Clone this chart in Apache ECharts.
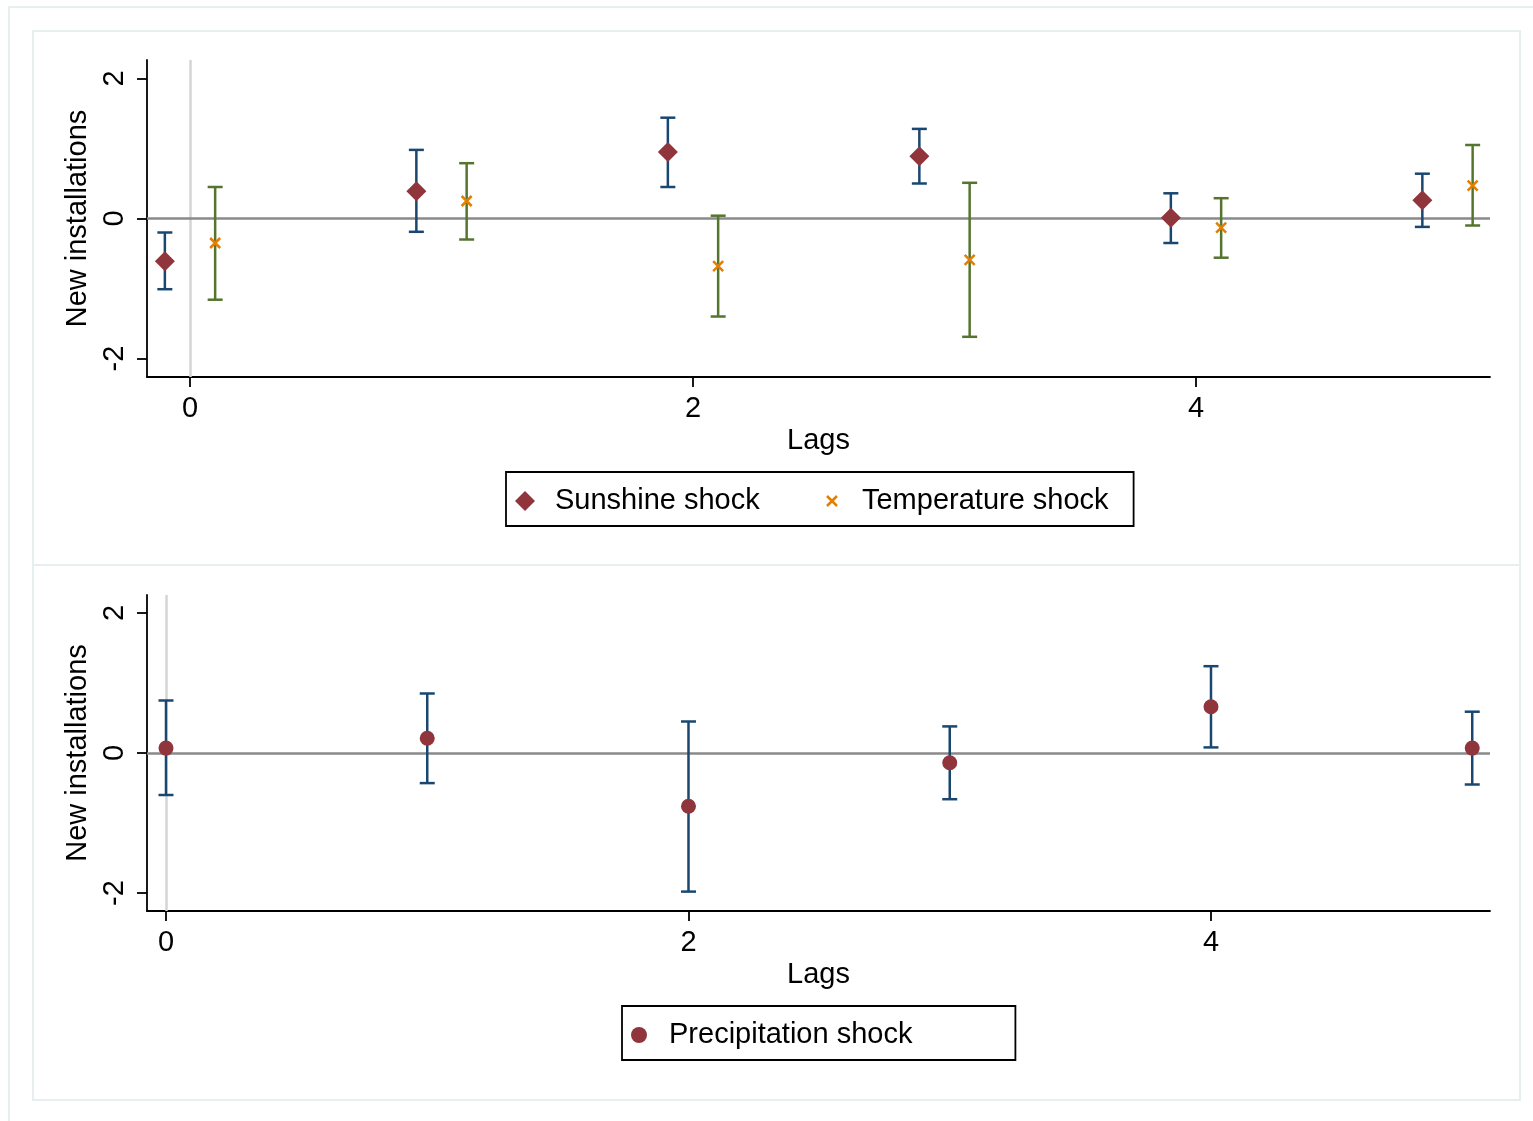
<!DOCTYPE html>
<html>
<head>
<meta charset="utf-8">
<script src="https://cdn.jsdelivr.net/npm/echarts@6/dist/echarts.min.js"></script>
<style>
  html, body { margin: 0; padding: 0; background: #fff; }
  #main { width: 1533px; height: 1121px; }
</style>
</head>
<body>
<div id="main"></div>
<script>
// lags on the x axis
var lags = [0, 1, 2, 3, 4, 5];
var xTicks = [0, 2, 4];
var yTicks = [-2, 0, 2];

// top panel: sunshine and temperature shocks (coef with 95% CI)
var sunCoef = [-0.61, 0.39, 0.95, 0.89, 0.01, 0.26];
var sunLow  = [-1.01, -0.19, 0.45, 0.50, -0.35, -0.12];
var sunHigh = [-0.20, 0.98, 1.44, 1.28, 0.36, 0.64];

var tempCoef = [-0.35, 0.25, -0.68, -0.59, -0.13, 0.47];
var tempLow  = [-1.16, -0.30, -1.40, -1.69, -0.56, -0.10];
var tempHigh = [0.45, 0.79, 0.04, 0.51, 0.29, 1.05];

// bottom panel: precipitation shock
var precCoef = [0.07, 0.21, -0.76, -0.14, 0.66, 0.07];
var precLow  = [-0.60, -0.43, -1.98, -0.66, 0.08, -0.45];
var precHigh = [0.75, 0.85, 0.45, 0.38, 1.24, 0.59];

var navy = '#1a476f', maroon = '#90353b', green = '#55752f', orange = '#e37e00';
var font = 'Liberation Sans, Arial, Helvetica, sans-serif';
var shift = 0.1; // sunshine drawn just left of the lag, temperature just right

function pts(xs, ys, dx) {
  return xs.map(function (x, i) { return [x + dx, ys[i]]; });
}
function bars(xs, lo, hi, dx) {
  return xs.map(function (x, i) { return [x + dx, lo[i], hi[i]]; });
}

function errorBar(color) {
  return function (params, api) {
    var x = api.value(0);
    var a = api.coord([x, api.value(1)]);
    var b = api.coord([x, api.value(2)]);
    var w = 7.5;
    var st = { stroke: color, lineWidth: 2.5, fill: null };
    return {
      type: 'group',
      children: [
        { type: 'line', shape: { x1: a[0], y1: a[1], x2: b[0], y2: b[1] }, style: st },
        { type: 'line', shape: { x1: a[0] - w, y1: a[1], x2: a[0] + w, y2: a[1] }, style: st },
        { type: 'line', shape: { x1: b[0] - w, y1: b[1], x2: b[0] + w, y2: b[1] }, style: st }
      ]
    };
  };
}

// zero lines, kept in their own empty series so they sit under the bars
function refSeries(idx) {
  return {
    type: 'line', name: 'ref' + idx, xAxisIndex: idx, yAxisIndex: idx, z: 1,
    data: [], silent: true,
    markLine: {
      z: 1,
      silent: true,
      symbol: 'none',
      label: { show: false },
      emphasis: { disabled: true },
      data: [
        { xAxis: 0, lineStyle: { color: '#d4d4d4', width: 2.5, type: 'solid' } },
        { yAxis: 0, lineStyle: { color: '#8a8a8a', width: 2.5, type: 'solid' } }
      ]
    }
  };
}

function xAxisCfg(idx, min, max) {
  return {
    type: 'value', gridIndex: idx, min: min, max: max,
    name: 'Lags', nameLocation: 'middle', nameGap: 49,
    nameTextStyle: { fontSize: 29, color: '#000', fontFamily: font },
    axisLine: { onZero: false, lineStyle: { color: '#000', width: 1.8 } },
    axisTick: { customValues: xTicks, length: 10, lineStyle: { color: '#000', width: 1.8 } },
    axisLabel: { customValues: xTicks, fontSize: 29, color: '#000', fontFamily: font, margin: 17 },
    splitLine: { show: false }
  };
}
function yAxisCfg(idx, min, max) {
  return {
    type: 'value', gridIndex: idx, min: min, max: max,
    name: 'New installations', nameLocation: 'middle', nameGap: 43,
    nameTextStyle: { fontSize: 29, color: '#000', fontFamily: font },
    axisLine: { show: true, onZero: false, lineStyle: { color: '#000', width: 1.8 } },
    axisTick: { show: true, customValues: yTicks, length: 10, lineStyle: { color: '#000', width: 1.8 } },
    axisLabel: { customValues: yTicks, rotate: 90, fontSize: 29, color: '#000', fontFamily: font, margin: 18 },
    splitLine: { show: false }
  };
}

var xSym = 'path://M0,0M20,20M5,5L15,15M15,5L5,15';

var myChart = echarts.init(document.getElementById('main'));
myChart.setOption({
  animation: false,
  backgroundColor: '#fff',
  textStyle: { fontFamily: font },
  graphic: [
    { type: 'rect', z: -10, shape: { x: 9, y: 7, width: 1540, height: 1130 }, style: { fill: 'none', stroke: '#e6eef0', lineWidth: 2 } },
    { type: 'rect', z: -10, shape: { x: 33, y: 31, width: 1487, height: 534 }, style: { fill: 'none', stroke: '#e6eef0', lineWidth: 2 } },
    { type: 'rect', z: -10, shape: { x: 33, y: 565, width: 1487, height: 535 }, style: { fill: 'none', stroke: '#e6eef0', lineWidth: 2 } }
  ],
  grid: [
    { left: 147, top: 60, width: 1343, height: 317 },
    { left: 147, top: 595, width: 1343, height: 316 }
  ],
  xAxis: [xAxisCfg(0, -0.171, 5.169), xAxisCfg(1, -0.0727, 5.068)],
  yAxis: [yAxisCfg(0, -2.264, 2.264), yAxisCfg(1, -2.257, 2.257)],
  legend: [
    {
      left: 506, top: 472, orient: 'horizontal',
      padding: [14, 25, 10, 9], itemGap: 61,
      itemWidth: 20, itemHeight: 20,
      borderColor: '#000', borderWidth: 1.8,
      textStyle: { fontSize: 29, color: '#000', fontFamily: font, padding: [0, 0, 0, 15], lineHeight: 30 },
      data: [
        { name: 'Sunshine shock', icon: 'diamond', itemStyle: { color: maroon, borderWidth: 0 } },
        { name: 'Temperature shock', icon: xSym, itemStyle: { color: 'rgba(0,0,0,0)', borderColor: orange, borderWidth: 2.5 } }
      ]
    },
    {
      left: 622, top: 1006, orient: 'horizontal',
      padding: [14, 103, 10, 9],
      itemWidth: 20, itemHeight: 16,
      borderColor: '#000', borderWidth: 1.8,
      textStyle: { fontSize: 29, color: '#000', fontFamily: font, padding: [0, 0, 0, 15], lineHeight: 30 },
      data: [
        { name: 'Precipitation shock', icon: 'circle', itemStyle: { color: maroon, borderWidth: 0 } }
      ]
    }
  ],
  series: [
    refSeries(0),
    {
      type: 'custom', name: 'sunCI', xAxisIndex: 0, yAxisIndex: 0, z: 2,
      renderItem: errorBar(navy), encode: { x: 0, y: [1, 2] },
      data: bars(lags, sunLow, sunHigh, -shift)
    },
    {
      type: 'custom', name: 'tempCI', xAxisIndex: 0, yAxisIndex: 0, z: 2,
      renderItem: errorBar(green), encode: { x: 0, y: [1, 2] },
      data: bars(lags, tempLow, tempHigh, shift)
    },
    {
      type: 'scatter', name: 'Sunshine shock', xAxisIndex: 0, yAxisIndex: 0, z: 3,
      symbol: 'diamond', symbolSize: 20,
      itemStyle: { color: maroon, opacity: 1 },
      data: pts(lags, sunCoef, -shift)
    },
    {
      type: 'scatter', name: 'Temperature shock', xAxisIndex: 0, yAxisIndex: 0, z: 3,
      symbol: xSym, symbolSize: 20,
      itemStyle: { color: 'rgba(0,0,0,0)', borderColor: orange, borderWidth: 2.5, opacity: 1 },
      data: pts(lags, tempCoef, shift)
    },
    refSeries(1),
    {
      type: 'custom', name: 'precCI', xAxisIndex: 1, yAxisIndex: 1, z: 2,
      renderItem: errorBar(navy), encode: { x: 0, y: [1, 2] },
      data: bars(lags, precLow, precHigh, 0)
    },
    {
      type: 'scatter', name: 'Precipitation shock', xAxisIndex: 1, yAxisIndex: 1, z: 3,
      symbol: 'circle', symbolSize: 15,
      itemStyle: { color: maroon, opacity: 1 },
      data: pts(lags, precCoef, 0)
    }
  ]
});
</script>
</body>
</html>
